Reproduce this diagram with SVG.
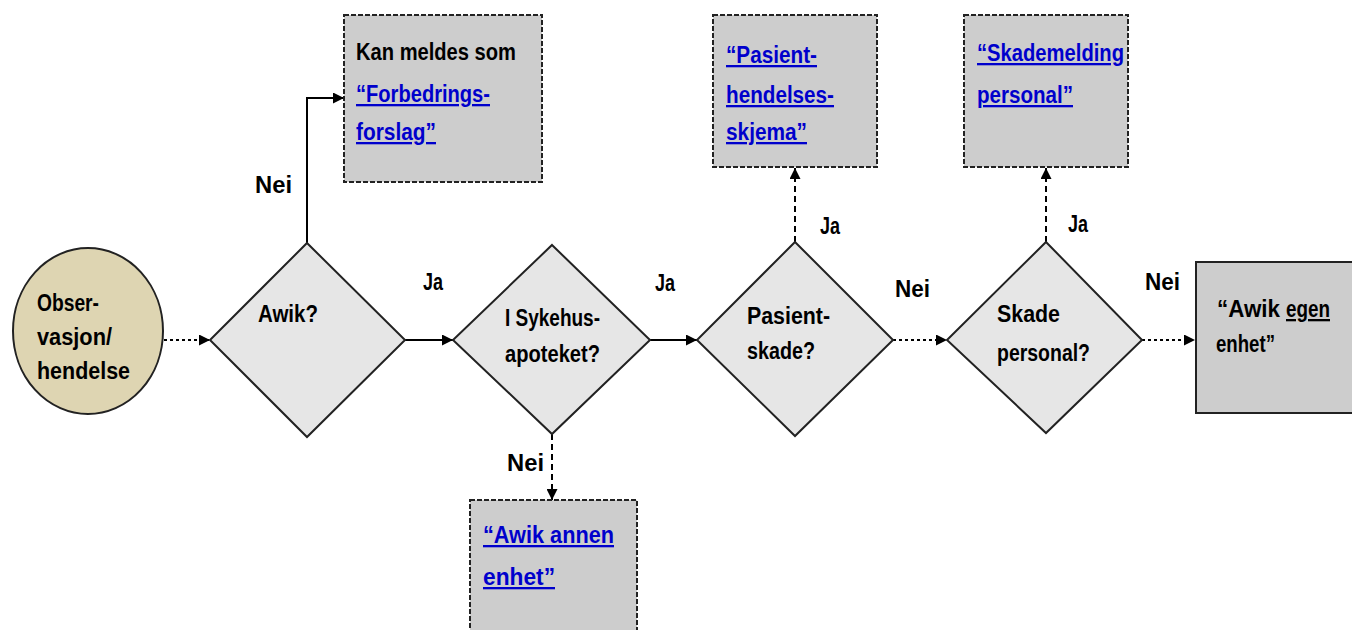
<svg xmlns="http://www.w3.org/2000/svg" width="1352" height="630" viewBox="0 0 1352 630">
<style>
text{font-family:"Liberation Sans Narrow","Liberation Sans",Arial,sans-serif;font-weight:bold;font-size:23px;fill:#000}
.lnk{fill:#0000cc;text-decoration:underline}
.dia{fill:#e6e6e6;stroke:#222;stroke-width:2}
.box{fill:#cdcdcd;stroke:#222;stroke-width:2;stroke-dasharray:5 2}
.c{fill:none;stroke:#000;stroke-width:2}
.dot{stroke-dasharray:3 3}
.dash{stroke-dasharray:6 4}
</style>
<defs>
<marker id="ah" viewBox="0 0 10 10" refX="10" refY="5" markerWidth="11" markerHeight="11" markerUnits="userSpaceOnUse" orient="auto">
<path d="M0,0 L10,5 L0,10 Z" fill="#000"/>
</marker>
</defs>
<rect width="1352" height="630" fill="#fff"/>
<g id="connectors">
<line class="c dot" x1="164" y1="340" x2="210" y2="340" marker-end="url(#ah)"/>
<line class="c" x1="405" y1="340" x2="453" y2="340" marker-end="url(#ah)"/>
<line class="c" x1="650" y1="340" x2="697" y2="340" marker-end="url(#ah)"/>
<line class="c dot" x1="893" y1="340" x2="947" y2="340" marker-end="url(#ah)"/>
<line class="c dot" x1="1142" y1="340" x2="1195" y2="340" marker-end="url(#ah)"/>
<polyline class="c" points="307,243 307,98 344,98" marker-end="url(#ah)"/>
<line class="c dash" x1="795" y1="242" x2="795" y2="168" marker-end="url(#ah)"/>
<line class="c dash" x1="1046" y1="242" x2="1046" y2="168" marker-end="url(#ah)"/>
<line class="c dash" x1="552" y1="434" x2="552" y2="500" marker-end="url(#ah)"/>
<text x="255" y="193" textLength="37" lengthAdjust="spacingAndGlyphs">Nei</text>
<text x="423" y="290" textLength="20" lengthAdjust="spacingAndGlyphs">Ja</text>
<text x="655" y="291" textLength="20" lengthAdjust="spacingAndGlyphs">Ja</text>
<text x="895" y="297" textLength="35" lengthAdjust="spacingAndGlyphs">Nei</text>
<text x="1145" y="290" textLength="35" lengthAdjust="spacingAndGlyphs">Nei</text>
<text x="820" y="234" textLength="20" lengthAdjust="spacingAndGlyphs">Ja</text>
<text x="1068" y="232" textLength="20" lengthAdjust="spacingAndGlyphs">Ja</text>
<text x="507" y="471" textLength="37" lengthAdjust="spacingAndGlyphs">Nei</text>
</g>
<g id="start">
<ellipse cx="88" cy="331" rx="75" ry="83" fill="#ded5b2" stroke="#222" stroke-width="2"/>
<text x="37" y="311" textLength="62" lengthAdjust="spacingAndGlyphs">Obser-</text>
<text x="37" y="345" textLength="75" lengthAdjust="spacingAndGlyphs">vasjon/</text>
<text x="37" y="379" textLength="93" lengthAdjust="spacingAndGlyphs">hendelse</text>
</g>
<g id="d-awik">
<polygon class="dia" points="307,243 405,340 307,437 210,340"/>
<text x="258" y="322" textLength="60" lengthAdjust="spacingAndGlyphs">Awik?</text>
</g>
<g id="d-sykehus">
<polygon class="dia" points="552,245 650,340 552,434 453,340"/>
<text x="505" y="326" textLength="95" lengthAdjust="spacingAndGlyphs">I Sykehus-</text>
<text x="505" y="362" textLength="95" lengthAdjust="spacingAndGlyphs">apoteket?</text>
</g>
<g id="d-pasient">
<polygon class="dia" points="795,242 893,340 795,436 697,340"/>
<text x="747" y="324" textLength="83" lengthAdjust="spacingAndGlyphs">Pasient-</text>
<text x="747" y="359" textLength="68" lengthAdjust="spacingAndGlyphs">skade?</text>
</g>
<g id="d-skade">
<polygon class="dia" points="1046,242 1142,340 1046,433 947,340"/>
<text x="997" y="322" textLength="63" lengthAdjust="spacingAndGlyphs">Skade</text>
<text x="997" y="361" textLength="93" lengthAdjust="spacingAndGlyphs">personal?</text>
</g>
<g id="b-forbedring">
<rect class="box" x="344" y="15" width="198" height="167"/>
<text x="356" y="60" textLength="160" lengthAdjust="spacingAndGlyphs">Kan meldes som</text>
<text class="lnk" x="356" y="102" textLength="134" lengthAdjust="spacingAndGlyphs">“Forbedrings-</text>
<text class="lnk" x="356" y="140" textLength="80" lengthAdjust="spacingAndGlyphs">forslag”</text>
</g>
<g id="b-pasient">
<rect class="box" x="713" y="15" width="164" height="152"/>
<text class="lnk" x="726" y="63" textLength="91" lengthAdjust="spacingAndGlyphs">“Pasient-</text>
<text class="lnk" x="726" y="103" textLength="108" lengthAdjust="spacingAndGlyphs">hendelses-</text>
<text class="lnk" x="726" y="140" textLength="81" lengthAdjust="spacingAndGlyphs">skjema”</text>
</g>
<g id="b-skademelding">
<rect class="box" x="964" y="15" width="164" height="152"/>
<text class="lnk" x="977" y="61" textLength="147" lengthAdjust="spacingAndGlyphs">“Skademelding</text>
<text class="lnk" x="977" y="103" textLength="96" lengthAdjust="spacingAndGlyphs">personal”</text>
</g>
<g id="b-annen">
<rect class="box" x="470" y="500" width="167" height="135"/>
<text class="lnk" x="483" y="543" textLength="131" lengthAdjust="spacingAndGlyphs">“Awik annen</text>
<text class="lnk" x="483" y="585" textLength="72" lengthAdjust="spacingAndGlyphs">enhet”</text>
</g>
<g id="b-egen">
<rect class="box" x="1196" y="262" width="165" height="151" style="stroke-dasharray:none"/>
<text x="1217" y="317" textLength="63" lengthAdjust="spacingAndGlyphs">“Awik</text>
<text x="1286" y="317" textLength="44" lengthAdjust="spacingAndGlyphs" style="text-decoration:underline">egen</text>
<text x="1216" y="352" textLength="59" lengthAdjust="spacingAndGlyphs">enhet”</text>
</g>
</svg>
